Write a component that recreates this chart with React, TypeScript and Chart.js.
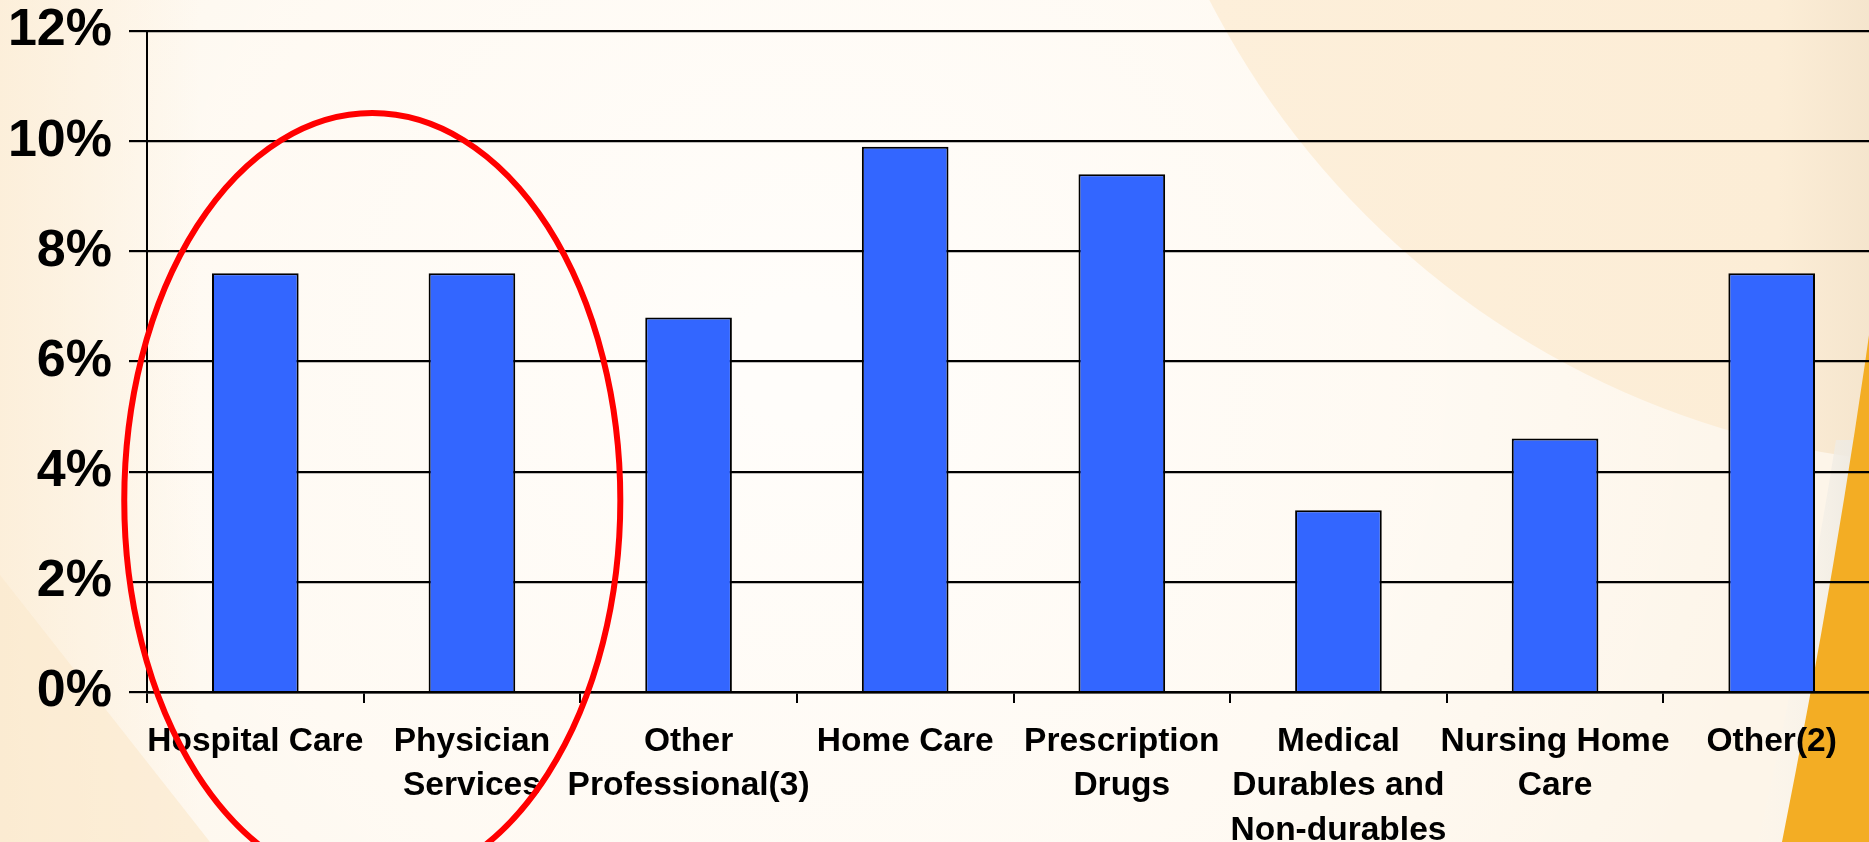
import React, { useEffect, useRef } from "react";
import { Chart, registerables } from "chart.js";

Chart.register(...registerables);

// ---- data ----
const categories: string[][] = [
  ["Hospital Care"],
  ["Physician", "Services"],
  ["Other", "Professional(3)"],
  ["Home Care"],
  ["Prescription", "Drugs"],
  ["Medical", "Durables and", "Non-durables"],
  ["Nursing Home", "Care"],
  ["Other(2)"],
];
const growthValues: number[] = [7.6, 7.6, 6.8, 9.9, 9.4, 3.3, 4.6, 7.6];
const yMin = 0;
const yMax = 12;
const yStep = 2;
const tickSuffix = "%";

// highlight ellipse around the first two categories (in data units)
const highlightCenterIndex = 0.54;
const highlightCenterValue = 3.48;
const highlightRadiusCategories = 1.145;
const highlightRadiusValue = 7.03;

const FONT = "'Liberation Sans', Arial, Helvetica, sans-serif";

const backgroundPlugin = {
  id: "slideBackground",
  beforeDraw(chart: any) {
    const { ctx, width, height } = chart;
    ctx.save();
    ctx.fillStyle = "#FDF5E9";
    ctx.fillRect(0, 0, width, height);

    // soft light centre
    const g = ctx.createRadialGradient(800, 360, 60, 800, 360, 1000);
    g.addColorStop(0, "rgba(255,253,250,1)");
    g.addColorStop(0.6, "rgba(255,251,245,0.8)");
    g.addColorStop(1, "rgba(255,251,245,0)");
    ctx.fillStyle = g;
    ctx.fillRect(0, 0, width, height);

    // peach left edge
    const lg = ctx.createLinearGradient(0, 0, 200, 0);
    lg.addColorStop(0, "rgba(252,238,216,0.9)");
    lg.addColorStop(1, "rgba(252,238,216,0)");
    ctx.fillStyle = lg;
    ctx.fillRect(0, 0, 200, height);

    // bottom-left peach wedge
    ctx.beginPath();
    ctx.moveTo(0, 575);
    ctx.lineTo(210, height);
    ctx.lineTo(0, height);
    ctx.closePath();
    ctx.fillStyle = "rgba(251,233,206,0.7)";
    ctx.fill();

    // top-right peach arc region
    const pg = ctx.createLinearGradient(1200, 0, width, 0);
    pg.addColorStop(0, "#FDEFDA");
    pg.addColorStop(0.85, "#FCEDD6");
    pg.addColorStop(1, "#F4E4CC");
    ctx.beginPath();
    ctx.arc(1969, -388, 853, 0, Math.PI * 2);
    ctx.fillStyle = pg;
    ctx.fill();

    // light highlight band left of the orange wedge (below the arc)
    ctx.beginPath();
    ctx.moveTo(1858 - 22, 440);
    ctx.quadraticCurveTo(1830 - 22, 620, 1782 - 24, height);
    ctx.lineTo(1782, height);
    ctx.quadraticCurveTo(1830, 620, 1858, 440);
    ctx.closePath();
    const hb = ctx.createLinearGradient(1760, 0, 1850, 0);
    hb.addColorStop(0, "rgba(250,247,240,0.1)");
    hb.addColorStop(1, "rgba(238,234,226,0.9)");
    ctx.fillStyle = hb;
    ctx.fill();

    // orange wedge
    ctx.beginPath();
    ctx.moveTo(1874, 300);
    ctx.quadraticCurveTo(1838, 560, 1782, height);
    ctx.lineTo(width + 20, height);
    ctx.lineTo(width + 20, 300);
    ctx.closePath();
    ctx.fillStyle = "#F3AD24";
    ctx.fill();
    ctx.restore();
  },
};

const ellipsePlugin = {
  id: "highlightEllipse",
  afterDraw(chart: any) {
    const { ctx } = chart;
    const xs = chart.scales.x;
    const ys = chart.scales.y;
    const cx = xs.getPixelForValue(highlightCenterIndex);
    const rx = xs.getPixelForValue(highlightCenterIndex + highlightRadiusCategories) - cx;
    const cy = ys.getPixelForValue(highlightCenterValue);
    const ry = ys.getPixelForValue(highlightCenterValue - highlightRadiusValue) - cy;
    ctx.save();
    ctx.beginPath();
    ctx.ellipse(cx, cy, Math.abs(rx), Math.abs(ry), 0, 0, Math.PI * 2);
    ctx.strokeStyle = "#FF0000";
    ctx.lineWidth = 6;
    ctx.stroke();
    ctx.restore();
  },
};

export default function App() {
  const canvasRef = useRef<HTMLCanvasElement | null>(null);

  useEffect(() => {
    if (!canvasRef.current) return;
    const chart = new Chart(canvasRef.current, {
      type: "bar",
      data: {
        labels: categories,
        datasets: [
          {
            data: growthValues,
            backgroundColor: "#3366FF",
            borderColor: "#000000",
            borderWidth: 2,
            barPercentage: 0.4,
            categoryPercentage: 1,
          },
        ],
      },
      options: {
        responsive: false,
        animation: false,
        events: [],
        layout: { padding: { top: 31, left: 0, right: 0, bottom: 0 } },
        plugins: {
          legend: { display: false },
          tooltip: { enabled: false },
          title: { display: false },
        },
        scales: {
          x: {
            type: "category",
            offset: true,
            grid: {
              offset: true,
              drawOnChartArea: false,
              drawTicks: true,
              tickLength: 11,
              color: "#000000",
              lineWidth: 2,
            },
            border: { display: true, color: "#000000", width: 2.5 },
            ticks: {
              color: "#000000",
              autoSkip: false,
              maxRotation: 0,
              minRotation: 0,
              padding: 16,
              font: { family: FONT, size: 33.5, weight: "bold", lineHeight: 1.33 },
            },
            afterFit(scale: any) {
              scale.height = 150;
            },
          },
          y: {
            min: yMin,
            max: yMax,
            ticks: {
              stepSize: yStep,
              color: "#000000",
              padding: 17,
              font: { family: FONT, size: 52, weight: "bold", lineHeight: 1.2 },
              callback: (v: any) => `${v}${tickSuffix}`,
            },
            grid: {
              color: "#000000",
              lineWidth: 2.2,
              drawTicks: true,
              tickLength: 18,
            },
            border: { display: true, color: "#000000", width: 2 },
            afterFit(scale: any) {
              scale.width = 147;
              scale.paddingTop = 0;
              scale.paddingBottom = 0;
            },
          },
        },
      },
      plugins: [backgroundPlugin, ellipsePlugin],
    });
    return () => chart.destroy();
  }, []);

  return (
    <div
      style={{
        position: "fixed",
        left: 0,
        top: 0,
        width: 1869,
        height: 842,
        overflow: "hidden",
      }}
    >
      <canvas
        ref={canvasRef}
        width={1880}
        height={842}
        style={{ display: "block", width: 1880, height: 842 }}
      />
    </div>
  );
}
